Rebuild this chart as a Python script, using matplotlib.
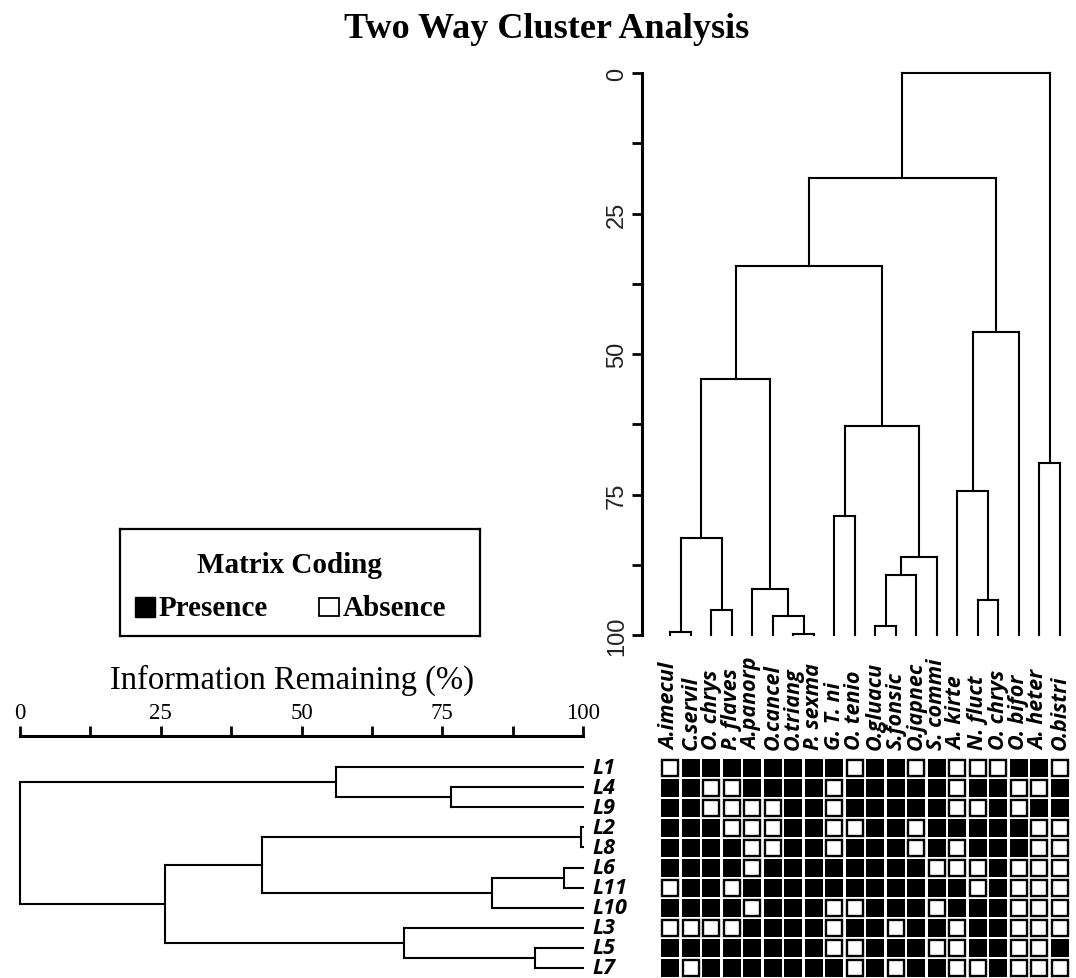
import numpy as np
import matplotlib
matplotlib.use("Agg")
from matplotlib import pyplot as plt
from matplotlib.patches import Rectangle

plt.rcParams["font.family"] = ["Liberation Serif", "DejaVu Serif"]

# species (columns) in dendrogram order
species = ["A.imecul", "C.servil", "O. chrys", "P. flaves", "A.panorp",
           "O.cancel", "O.triang", "P. sexma", "G. T. ni", "O. tenio",
           "O.gluacu", "S.fonsic", "O.japnec", "S. commi", "A. kirte",
           "N. fluct", "O. chrys", "O. bifor", "A. heter", "O.bistri"]

# sites (rows) in dendrogram order
sites = ["L1", "L4", "L9", "L2", "L8", "L6", "L11", "L10", "L3", "L5", "L7"]

# 1 = presence, 0 = absence
presence = np.array([
    [0, 1, 1, 1, 1, 1, 1, 1, 1, 0, 1, 1, 0, 1, 0, 0, 0, 1, 1, 0],
    [1, 1, 0, 0, 1, 1, 1, 1, 0, 1, 1, 1, 1, 1, 0, 1, 1, 0, 0, 1],
    [1, 1, 0, 0, 0, 0, 1, 1, 0, 1, 1, 1, 1, 1, 0, 0, 1, 0, 1, 1],
    [1, 1, 1, 0, 0, 0, 1, 1, 0, 0, 1, 1, 0, 1, 1, 1, 1, 1, 0, 0],
    [1, 1, 1, 1, 0, 0, 1, 1, 0, 1, 1, 1, 0, 1, 0, 1, 1, 1, 0, 0],
    [1, 1, 1, 1, 0, 1, 1, 1, 1, 1, 1, 1, 1, 0, 0, 0, 1, 0, 0, 0],
    [0, 1, 1, 0, 1, 1, 1, 1, 1, 1, 1, 1, 1, 1, 1, 0, 1, 0, 0, 0],
    [1, 1, 1, 1, 0, 1, 1, 1, 0, 0, 1, 1, 1, 0, 1, 1, 1, 0, 0, 0],
    [0, 0, 0, 0, 1, 1, 1, 1, 0, 1, 1, 0, 1, 1, 0, 1, 1, 0, 0, 0],
    [1, 1, 1, 1, 1, 1, 1, 1, 0, 0, 1, 1, 1, 0, 0, 1, 1, 0, 0, 1],
    [1, 0, 1, 1, 1, 1, 1, 1, 1, 0, 1, 0, 1, 1, 0, 0, 1, 0, 0, 0],
])

# merges: (child a, child b, information remaining %), new ids start at n
species_merges = [
    (0, 1, 99.4), (2, 3, 95.5), (20, 21, 82.7),
    (6, 7, 99.9), (5, 23, 96.7), (4, 24, 91.8), (22, 25, 54.4),
    (8, 9, 78.8), (10, 11, 98.4), (28, 12, 89.4), (29, 13, 86.1),
    (27, 30, 62.8), (26, 31, 34.3),
    (15, 16, 93.8), (14, 33, 74.4), (34, 17, 46.1), (32, 35, 18.7),
    (18, 19, 69.4), (36, 37, 0.0),
]
site_merges = [
    (1, 2, 76.5), (0, 11, 56.2), (3, 4, 99.7), (5, 6, 96.7),
    (14, 7, 83.8), (13, 15, 42.9), (9, 10, 91.5), (8, 17, 68.2),
    (16, 18, 25.7), (12, 19, 0.0),
]

W, H = 1076, 979
label_font = ["Open Sans", "DejaVu Sans"]


def box(x0, y0, x1, y1):
    return [x0 / W, 1 - y1 / H, (x1 - x0) / W, (y1 - y0) / H]


def dendro(ax, merges, n, vertical):
    pos = {i: i + 0.5 for i in range(n)}
    lev = {i: 100.0 for i in range(n)}
    for k, (a, b, h) in enumerate(merges):
        segs = [([pos[a], pos[a]], [lev[a], h]),
                ([pos[b], pos[b]], [lev[b], h]),
                ([pos[a], pos[b]], [h, h])]
        for s in segs:
            xs, ys = s if vertical else s[::-1]
            ax.plot(xs, ys, c="black", lw=1.5, clip_on=False)
        pos[n + k] = (pos[a] + pos[b]) / 2
        lev[n + k] = h


fig = plt.figure(figsize=(W / 100, H / 100), dpi=100)

fig.text(547 / W, 1 - 29 / H, "Two Way Cluster Analysis", ha="center", va="center",
         fontsize=26, fontweight="bold")

# species dendrogram (top)
col_w = 20.5
ax_top = fig.add_axes(box(642, 74, 1070, 636))
dendro(ax_top, species_merges, len(species), True)
ax_top.set_xlim(-18 / col_w, 20)
ax_top.set_ylim(100, 0)
for s in ["top", "right", "bottom"]:
    ax_top.spines[s].set_visible(False)
ax_top.spines["left"].set_linewidth(2.2)
ax_top.set_xticks([])
ax_top.set_yticks([0, 25, 50, 75, 100])
ax_top.set_yticks([12.5, 37.5, 62.5, 87.5], minor=True)
ax_top.tick_params(axis="y", which="both", length=7, width=2, pad=3)
ax_top.tick_params(axis="y", labelsize=17, labelrotation=90, labelcolor="#222222")
for lbl in ax_top.get_yticklabels():
    lbl.set_fontfamily(["Liberation Sans", "DejaVu Sans"])
    lbl.set_va("center")

# site dendrogram (left)
row_h = 221 / 11
ax_left = fig.add_axes(box(20, 737, 583, 979))
dendro(ax_left, site_merges, len(sites), False)
ax_left.set_xlim(0, 100)
ax_left.set_ylim(11, -21 / row_h)
for s in ["left", "right", "bottom"]:
    ax_left.spines[s].set_visible(False)
ax_left.spines["top"].set_linewidth(2.2)
ax_left.set_yticks([])
ax_left.xaxis.tick_top()
ax_left.set_xticks([0, 25, 50, 75, 100])
ax_left.set_xticks([12.5, 37.5, 62.5, 87.5], minor=True)
ax_left.tick_params(axis="x", which="both", top=True, bottom=False, length=7, width=2,
                    labelsize=16.5, pad=2)
for i, name in enumerate(sites):
    ax_left.text(101.6, i + 0.5, name, ha="left", va="center", fontsize=15.5,
                 fontweight="bold", fontstyle="italic", family=label_font,
                 clip_on=False)

fig.text(292 / W, 1 - 680 / H, "Information Remaining (%)", ha="center", va="center",
         fontsize=23.5)

# presence / absence matrix
ax_mat = fig.add_axes(box(660, 759, 1070, 979))
ax_mat.set_xlim(0, len(species))
ax_mat.set_ylim(len(sites), 0)
ax_mat.axis("off")
for i in range(len(sites)):
    for j in range(len(species)):
        if presence[i, j]:
            ax_mat.add_patch(Rectangle((j + 0.06, i + 0.06), 0.88, 0.88,
                                       facecolor="black", edgecolor="none"))
        else:
            ax_mat.add_patch(Rectangle((j + 0.1, i + 0.1), 0.8, 0.8,
                                       facecolor="white", edgecolor="black", lw=1.7))
for j, name in enumerate(species):
    ax_mat.text(j + 0.5, -0.45, name, rotation=90, ha="center", va="bottom",
                fontsize=15.5, fontweight="bold", fontstyle="italic",
                family=label_font, clip_on=False)

# legend box
ax_leg = fig.add_axes(box(120, 530, 480, 637))
ax_leg.set_xticks([])
ax_leg.set_yticks([])
for s in ax_leg.spines.values():
    s.set_linewidth(1.6)
ax_leg.text(0.472, 0.67, "Matrix Coding", transform=ax_leg.transAxes, ha="center",
            va="center", fontsize=21, fontweight="bold")
ax_leg.add_patch(Rectangle((0.042, 0.18), 0.055, 0.185, transform=ax_leg.transAxes,
                           facecolor="black", edgecolor="black"))
ax_leg.text(0.106, 0.27, "Presence", transform=ax_leg.transAxes, ha="left",
            va="center", fontsize=21, fontweight="bold")
ax_leg.add_patch(Rectangle((0.552, 0.185), 0.055, 0.17, transform=ax_leg.transAxes,
                           facecolor="white", edgecolor="black", lw=1.3))
ax_leg.text(0.619, 0.27, "Absence", transform=ax_leg.transAxes, ha="left",
            va="center", fontsize=21, fontweight="bold")

plt.savefig("out.png", dpi=100)
plt.close()
